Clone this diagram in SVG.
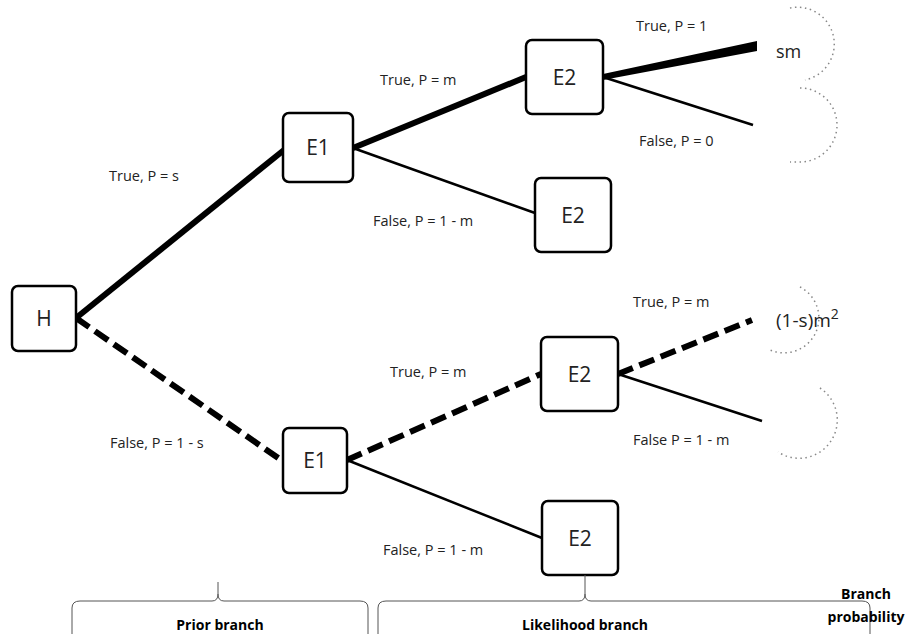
<svg xmlns="http://www.w3.org/2000/svg" width="914" height="634" viewBox="0 0 914 634">
<style>
.box{fill:#fff;stroke:#000;stroke-width:2.5}
.nt{font-family:"Open Sans","Noto Sans",sans-serif;font-size:21px;fill:#222;text-anchor:middle}
.lb{font-family:"Open Sans","Noto Sans",sans-serif;font-size:14.5px;fill:#222}
.bt{font-family:"Open Sans","Noto Sans",sans-serif;font-size:14px;font-weight:bold;fill:#000;text-anchor:middle}
.thick{stroke:#000;stroke-width:6;fill:none}
.dash{stroke:#000;stroke-width:6;fill:none;stroke-dasharray:16 7}
.thin{stroke:#000;stroke-width:2.5;fill:none}
.dot{stroke:#888;stroke-width:1.5;fill:none;stroke-dasharray:1.5 3.5}
.br{stroke:#555;stroke-width:1;fill:none}
</style>
<rect width="914" height="634" fill="#fff"/>
<g id="connectors">
<line class="thick" x1="76" y1="318" x2="284" y2="150"/>
<line class="dash" x1="76" y1="318" x2="284" y2="462"/>
<line class="thick" x1="353" y1="148" x2="526" y2="77"/>
<line class="thin" x1="353" y1="148" x2="535" y2="213"/>
<polygon points="603,74 757,41 757,51 603,80" fill="#000"/>
<line class="thin" x1="603" y1="77" x2="753" y2="125"/>
<line class="dash" x1="347" y1="460" x2="541" y2="374"/>
<line class="thin" x1="347" y1="460" x2="542" y2="538"/>
<line class="dash" x1="618" y1="374" x2="752" y2="320"/>
<line class="thin" x1="618" y1="374" x2="762" y2="421"/>
</g>
<g id="circles">
<path class="dot" d="M 790 8 A 36 36 0 0 1 805 80"/>
<path class="dot" d="M 800 88 A 37 37 0 0 1 800 162 L 790 162"/>
<path class="dot" d="M 800 287 A 32 32 0 0 1 768 349"/>
<path class="dot" d="M 820 388 A 38 38 0 0 1 778 452"/>
</g>
<g id="H"><rect class="box" x="12" y="286" width="64" height="65" rx="6"/><text class="nt" x="44" y="326">H</text></g>
<g id="E1a"><rect class="box" x="283" y="113" width="70" height="69" rx="6"/><text class="nt" x="318" y="155">E1</text></g>
<g id="E2a"><rect class="box" x="526" y="40" width="77" height="74" rx="6"/><text class="nt" x="564.5" y="85">E2</text></g>
<g id="E2b"><rect class="box" x="535" y="178" width="76" height="74" rx="6"/><text class="nt" x="573" y="223">E2</text></g>
<g id="E1b"><rect class="box" x="283" y="428" width="64" height="65" rx="6"/><text class="nt" x="315" y="468">E1</text></g>
<g id="E2c"><rect class="box" x="541" y="337" width="77" height="74" rx="6"/><text class="nt" x="579.5" y="382">E2</text></g>
<g id="E2d"><rect class="box" x="542" y="501" width="76" height="74" rx="6"/><text class="nt" x="580" y="546">E2</text></g>
<g id="labels">
<text class="lb" x="109" y="181">True, P = s</text>
<text class="lb" x="110" y="448">False, P = 1 - s</text>
<text class="lb" x="380" y="85">True, P = m</text>
<text class="lb" x="373" y="226">False, P = 1 - m</text>
<text class="lb" x="636" y="31">True, P = 1</text>
<text class="lb" x="639" y="146">False, P = 0</text>
<text class="lb" x="633" y="307">True, P = m</text>
<text class="lb" x="633" y="445">False P = 1 - m</text>
<text class="lb" x="390" y="377">True, P = m</text>
<text class="lb" x="383" y="555">False, P = 1 - m</text>
<text class="lb" x="776" y="58" style="font-size:18px">sm</text>
<text class="lb" x="776" y="327" style="font-size:19px">(1-s)m<tspan dy="-8" style="font-size:14px">2</tspan></text>
</g>
<g id="braces">
<path class="br" d="M 72 634 L 72 608 Q 72 601 80 601 L 212 601 Q 218 601 218 594 L 218 582 M 218 594 Q 218 601 224 601 L 360 601 Q 368 601 368 608 L 368 634"/>
<path class="br" d="M 378 634 L 378 608 Q 378 601 386 601 L 579 601 Q 585 601 585 594 L 585 575 M 585 594 Q 585 601 591 601 L 862 601 Q 870 601 870 608 L 870 634"/>
<text class="bt" x="220" y="630">Prior branch</text>
<text class="bt" x="585" y="630">Likelihood branch</text>
<text class="bt" x="866" y="599">Branch</text>
<text class="bt" x="866" y="622">probability</text>
</g>
</svg>
